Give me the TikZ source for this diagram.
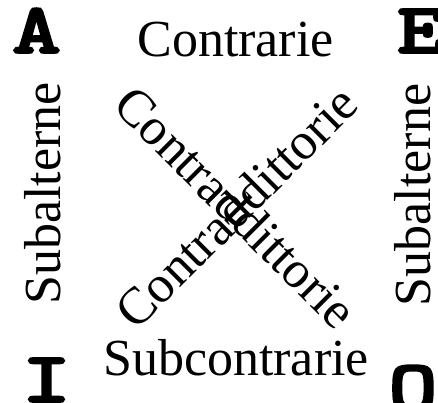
\documentclass[tikz,border=0pt]{standalone}
\usepackage{fontspec}
\setmainfont{Liberation Serif}
\newfontfamily\courfont{lmmonolt10-bold.otf}[FakeBold=2.5]
\newcommand\cornerletter[1]{\scalebox{1.3}[1]{#1}}
\tikzset{
  lbl/.style={inner sep=0pt, outer sep=0pt, font=\fontsize{52}{60}\selectfont},
  corner/.style={inner sep=0pt, outer sep=0pt, anchor=base, font=\courfont\fontsize{72}{80}\selectfont},
}
\begin{document}
\begin{tikzpicture}[x=1pt,y=-1pt]
\useasboundingbox (0,0) rectangle (438,403);
\node[corner] (A) at (36.5,53) {\cornerletter{A}};
\node[corner] (E) at (421.5,53) {\cornerletter{E}};
\node[corner] (I) at (46.5,402) {\cornerletter{I}};
\node[corner] (O) at (413,410) {\cornerletter{O}};
\node[lbl, anchor=base] (contr) at (235.5,57) {Contrarie};
\node[lbl, anchor=base] (subc) at (236,375) {Subcontrarie};
\node[lbl, anchor=base, rotate=90] (subL) at (60,193.5) {Subalterne};
\node[lbl, anchor=base, rotate=90] (subR) at (430,195) {Subalterne};
\node[lbl, anchor=center, rotate=-45] (cd1) at (236,207) {Contraddittorie};
\node[lbl, anchor=center, rotate=45] (cd2) at (236,207) {Contraddittorie};
\end{tikzpicture}
\end{document}
